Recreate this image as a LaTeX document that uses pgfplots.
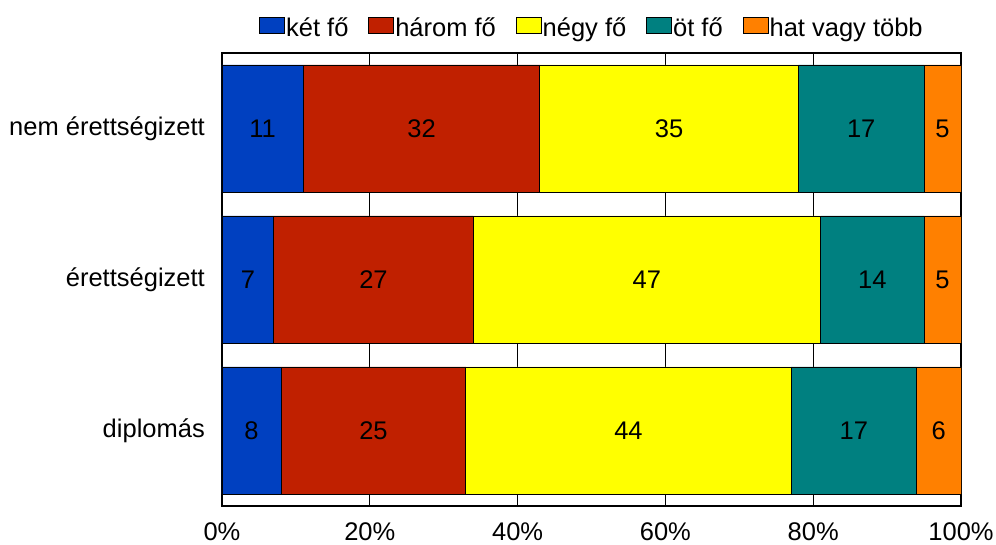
\documentclass[border=0pt]{standalone}
\usepackage{fontspec}
\setmainfont{Liberation Sans}
\usepackage{pgfplots}
\pgfplotsset{compat=1.18}
\definecolor{cblue}{RGB}{0,64,192}
\definecolor{cred}{RGB}{192,32,0}
\definecolor{cyellow}{RGB}{255,255,0}
\definecolor{cteal}{RGB}{0,128,128}
\definecolor{corange}{RGB}{255,128,0}
\begin{document}
\begin{tikzpicture}
\begin{axis}[
  scale only axis,
  width=739bp, height=453bp,
  xbar stacked,
  bar width=127bp,
  xmin=0, xmax=100,
  ymin=-0.5, ymax=2.5,
  ytick={0,1,2},
  yticklabels={diplomás,érettségizett,nem érettségizett},
  xtick={0,20,40,60,80,100},
  xticklabels={0\%,20\%,40\%,60\%,80\%,100\%},
  font=\fontsize{25.5bp}{30bp}\selectfont,
  tick label style={font=\fontsize{25.5bp}{30bp}\selectfont},
  yticklabel style={inner sep=0pt, xshift=-17bp},
  xticklabel style={inner sep=0pt, yshift=-16bp},
  major tick length=0pt,
  xmajorgrids,
  grid style={black, line width=0.8bp},
  axis line style={black, line width=1.2bp},
  /pgf/number format/assume math mode=true,
  point meta=rawx,
  nodes near coords,
  every node near coord/.append style={font=\fontsize{25.5bp}{30bp}\selectfont, black},
  legend columns=5,
  legend cell align=left,
  legend style={draw=none, fill=none, at={(0.5,1)}, anchor=south, yshift=12bp,
    font=\fontsize{25.5bp}{30bp}\selectfont,
    nodes={inner sep=1bp}, column sep=0pt},
  legend image code/.code={\draw[#1, draw=black, line width=0.8bp] (0bp,-6bp) rectangle (25bp,10bp);},
]
\addplot[fill=cblue, draw=black, line width=0.8bp] coordinates {(8,0) (7,1) (11,2)};
\addplot[fill=cred, draw=black, line width=0.8bp] coordinates {(25,0) (27,1) (32,2)};
\addplot[fill=cyellow, draw=black, line width=0.8bp] coordinates {(44,0) (47,1) (35,2)};
\addplot[fill=cteal, draw=black, line width=0.8bp] coordinates {(17,0) (14,1) (17,2)};
\addplot[fill=corange, draw=black, line width=0.8bp] coordinates {(6,0) (5,1) (5,2)};
\legend{két fő\hspace*{19bp},három fő\hspace*{19bp},négy fő\hspace*{19bp},öt fő\hspace*{19bp},hat vagy több}
\end{axis}
\useasboundingbox ([xshift=-222bp,yshift=-39bp]current axis.south west) rectangle ([xshift=35bp,yshift=53bp]current axis.north east);
\end{tikzpicture}
\end{document}
